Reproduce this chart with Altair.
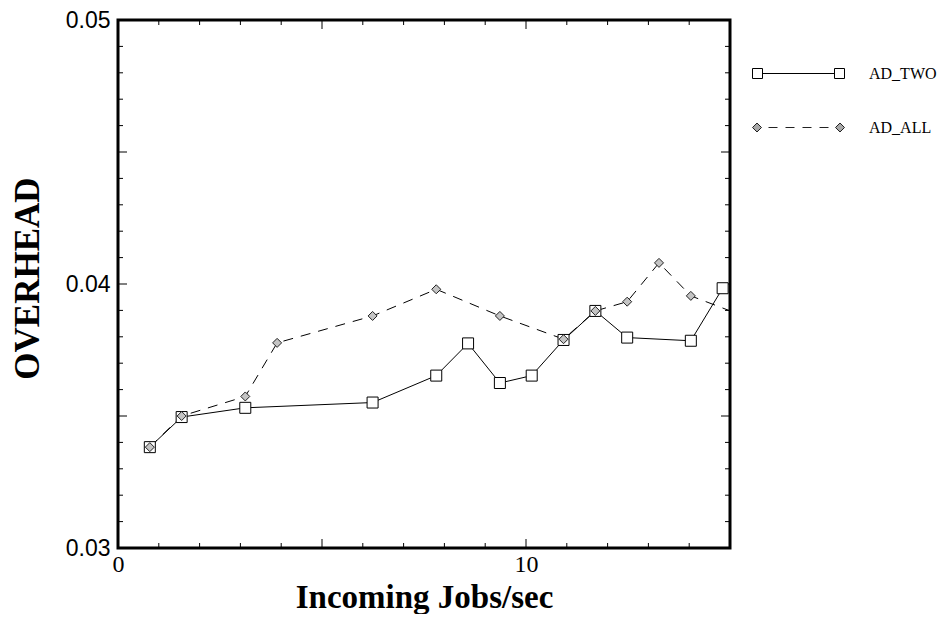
import altair as alt
import pandas as pd

# ---- data ----
series_names = ["AD_TWO", "AD_ALL"]

x_two = [0.78, 1.56, 3.12, 6.24, 7.80, 8.58, 9.36, 10.14, 10.92, 11.70, 12.48, 14.04, 14.82]
y_two = [0.03382, 0.03496, 0.03531, 0.03551, 0.03653, 0.03775, 0.03625, 0.03653,
         0.03788, 0.03898, 0.03797, 0.03785, 0.03984]

x_all = [0.78, 1.56, 3.12, 3.90, 6.24, 7.80, 9.36, 10.92, 11.70, 12.48, 13.26, 14.04, 15.60]
y_all = [0.03382, 0.03500, 0.03574, 0.03777, 0.03879, 0.03980, 0.03879, 0.03791,
         0.03898, 0.03933, 0.04080, 0.03955, 0.03863]

x_label_values = [0, 10]
y_label_values = [0.03, 0.04, 0.05]
x_minor_ticks = [1, 2, 3, 4, 6, 7, 8, 9, 11, 12, 13, 14]
x_major_ticks = [5, 10]
y_minor_ticks = [0.031, 0.032, 0.033, 0.034, 0.036, 0.037, 0.038, 0.039,
                 0.041, 0.042, 0.043, 0.044, 0.046, 0.047, 0.048, 0.049]
y_major_ticks = [0.035, 0.040, 0.045]

W, H = 612, 528

df_two = pd.DataFrame({"x": x_two, "y": y_two, "series": series_names[0]})
df_all = pd.DataFrame({"x": x_all, "y": y_all, "series": series_names[1]})
df_both = pd.concat([df_two, df_all], ignore_index=True)

xs = alt.Scale(domain=[0, 15], nice=False, zero=False)
ys = alt.Scale(domain=[0.03, 0.05], nice=False, zero=False)

x_axis = alt.Axis(
    values=x_label_values, format="d", grid=False, ticks=False, tickSize=0, domain=False,
    labelFont="Liberation Serif", labelFontSize=24, labelColor="black",
    labelPadding=4, labelFlush=False, labelOverlap=False,
    titleFont="Liberation Serif", titleFontSize=33, titleFontWeight="bold",
    titleColor="black", titleX=306, titleY=59, titleBaseline="alphabetic",
    titleAlign="center",
)
y_axis = alt.Axis(
    values=y_label_values, format=".2f", grid=False, ticks=False, tickSize=0, domain=False,
    labelFont="Liberation Sans", labelFontSize=23, labelColor="black",
    labelPadding=8, labelFlush=False, labelOverlap=False,
    titleFont="Liberation Serif", titleFontSize=35, titleFontWeight="bold",
    titleColor="black", titleX=-80, titleY=258, titleBaseline="alphabetic",
    titleAlign="center", titleAngle=270,
)

X = alt.X("x:Q", scale=xs, axis=x_axis, title="Incoming Jobs/sec")
Y = alt.Y("y:Q", scale=ys, axis=y_axis, title="OVERHEAD")

line_two = alt.Chart(df_two).mark_line(color="black", strokeWidth=1, clip=True).encode(x=X, y=Y)
line_all = alt.Chart(df_all).mark_line(
    color="black", strokeWidth=1, strokeDash=[10, 8], clip=True
).encode(x=X, y=Y)
pts_two = alt.Chart(df_two).mark_point(
    shape="square", size=121, filled=True, fill="white", stroke="black",
    strokeWidth=1, opacity=1, clip=True
).encode(x=X, y=Y)
pts_all = alt.Chart(df_all).mark_point(
    shape="diamond", size=81, filled=True, fill="#c4c4c4", stroke="#222222",
    strokeWidth=1, opacity=1, clip=True
).encode(x=X, y=Y)


def x_ticks(vals, y0, y1):
    return alt.Chart(pd.DataFrame({"x": vals})).mark_rule(color="black", strokeWidth=1).encode(
        x=X, y=alt.value(y0), y2=alt.value(y1)
    )


def y_ticks(vals, x0, x1):
    return alt.Chart(pd.DataFrame({"y": vals})).mark_rule(color="black", strokeWidth=1).encode(
        y=Y, x=alt.value(x0), x2=alt.value(x1)
    )


tick_layers = [
    x_ticks(x_minor_ticks, H - 5, H), x_ticks(x_major_ticks, H - 9, H),
    x_ticks(x_minor_ticks, 0, 5), x_ticks(x_major_ticks, 0, 9),
    y_ticks(y_minor_ticks, 0, 5), y_ticks(y_major_ticks, 0, 9),
    y_ticks(y_minor_ticks, W - 5, W), y_ticks(y_major_ticks, W - 9, W),
]

# legend symbols: custom paths (line with end markers)
path_two = ("M-4.6,-0.5L-3.6,-0.5L-3.6,0.5L-4.6,0.5Z"
            "M3.6,-0.5L4.6,-0.5L4.6,0.5L3.6,0.5Z"
            "M-3.6,0L3.6,0")
path_all = ("M-4.15,-0.45L-3.7,0L-4.15,0.45L-4.6,0Z"
            "M4.15,-0.45L4.6,0L4.15,0.45L3.7,0Z"
            "M-3.0,0L-2.1,0M-1.3,0L-0.4,0M0.4,0L1.3,0M2.1,0L3.0,0")

leg = dict(
    title=None, orient="none", legendX=670, legendY=43, padding=0,
    symbolSize=400, symbolStrokeColor="black", symbolStrokeWidth=1,
    symbolOpacity=1, labelFont="Liberation Serif", labelFontSize=16,
    labelColor="black", labelOffset=60, rowPadding=35,
)
legend_layer = alt.Chart(df_both).transform_filter("datum.x < -100").mark_point(
    filled=True, strokeWidth=1, size=400
).encode(
    shape=alt.Shape("series:N", scale=alt.Scale(domain=series_names, range=[path_two, path_all]),
                    legend=alt.Legend(**leg)),
    fill=alt.Fill("series:N", scale=alt.Scale(domain=series_names, range=["white", "#a8a8a8"]),
                  legend=alt.Legend(**leg)),
    stroke=alt.Stroke("series:N", scale=alt.Scale(domain=series_names, range=["black", "#222222"]),
                      legend=alt.Legend(**leg)),
)

chart = alt.layer(
    line_two, line_all, *tick_layers, pts_two, pts_all, legend_layer
).properties(
    width=W, height=H,
    padding={"left": 110, "top": 12, "right": 211, "bottom": 66},
    autosize=alt.AutoSizeParams(type="none"),
    background="white",
).configure_view(stroke="black", strokeWidth=3)

chart.save("out.html", embed_options={"renderer": "svg", "actions": False})
